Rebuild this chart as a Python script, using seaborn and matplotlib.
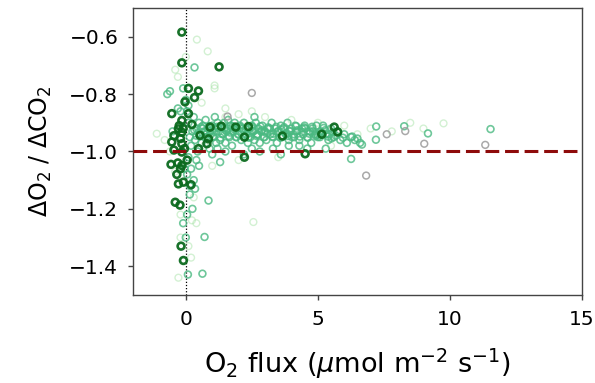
import matplotlib
matplotlib.use("Agg")
import matplotlib.pyplot as plt
import seaborn as sns
import pandas as pd

# ---- data ----
dark_x = [-0.15, -0.15, 1.26, 0.10, 0.48, 0.33, -0.03, -0.53, 0.10, -0.15, -0.28, -0.15, 0.23,
          -0.53, -0.15, 0.54, 0.92, 1.34, 1.89, 2.37, 2.22, 0.86, 0.80, 0.48, 3.66, 5.15, 5.62,
          5.75, 2.22, 4.52, -0.15, -0.56, -0.15, -0.34, -0.09, -0.28, 0.20, -0.40, -0.22, -0.18,
          -0.09, -0.25, -0.10, -0.45, -0.20, -0.05, -0.45, 0.05, -0.30, -0.20]
dark_y = [-0.584, -0.691, -0.705, -0.780, -0.789, -0.812, -0.827, -0.868, -0.868, -0.892, -0.921,
          -0.933, -0.906, -0.967, -0.973, -0.944, -0.915, -0.912, -0.915, -0.913, -0.950, -0.956,
          -0.973, -0.990, -0.946, -0.940, -0.915, -0.932, -1.020, -1.008, -1.002, -1.045, -1.049,
          -1.080, -1.107, -1.113, -1.116, -1.177, -1.187, -1.330, -1.380, -0.910, -0.920, -0.945,
          -0.955, -0.990, -0.995, -1.030, -1.040, -1.060]

mid_x = [0.05, 0.10, 0.15, 0.20, 0.25, 0.30, 0.35, 0.40, 0.45, 0.50, 0.55, 0.60, 0.65, 0.70, 0.75,
         0.80, 0.85, 0.90, 0.95, 1.00, 0.20, 0.30, 0.35, 0.15, 0.25, 0.40, 0.10, 0.05,
         1.05, 1.10, 1.15, 1.20, 1.25, 1.30, 1.35, 1.40, 1.45, 1.50, 1.55, 1.60, 1.65, 1.70, 1.75,
         1.80, 1.85, 1.90, 1.95, 1.20, 1.50, 1.00, 1.10, 1.60,
         2.00, 2.05, 2.10, 2.15, 2.20, 2.30, 2.35, 2.40, 2.45, 2.50, 2.55, 2.60, 2.65, 2.70, 2.75,
         2.80, 2.85, 2.90, 2.95, 2.50, 2.80, 2.20, 2.60,
         3.00, 3.05, 3.10, 3.20, 3.25, 3.30, 3.40, 3.45, 3.50, 3.60, 3.65, 3.70, 3.80, 3.85, 3.90,
         3.95, 3.30, 3.60, 3.90,
         4.00, 4.10, 4.15, 4.20, 4.30, 4.40, 4.45, 4.50, 4.60, 4.70, 4.75, 4.80, 4.90, 4.95, 4.30, 4.60,
         5.00, 5.10, 5.20, 5.30, 5.40, 5.50, 5.60, 5.75, 5.85, 6.00, 6.10, 6.25, 6.40, 6.60, 5.30,
         0.33, 1.30, 0.86, 0.71, 0.63, 0.08, 6.26, 7.21, 8.27, 9.17, 11.54, 7.20, 6.67,
         -0.70, -0.60, -0.30, -0.50, 0.50,
         -0.10, 0.00, -0.20, 0.10, -0.05, 0.15, 0.05, -0.10, 0.00,
         # extra band points
         0.32, 0.48, 0.62, 0.78, 0.92, 1.08, 1.22, 1.38, 1.52, 1.68, 1.82, 1.98, 2.12, 2.28, 2.42,
         2.58, 2.72, 2.88, 3.02, 3.18, 3.32, 3.48, 3.62, 3.78, 3.92, 4.08, 4.22, 4.38, 4.52, 4.68,
         4.82, 4.98, 5.12, 5.28, 5.42, 5.58,
         0.40, 0.58, 0.72, 0.88, 1.02, 1.18, 1.32, 1.48, 1.62, 1.78, 1.92, 2.08, 2.22, 2.38, 2.52,
         2.68, 2.82, 2.98, 3.12, 3.28, 3.42, 3.58, 3.72, 3.88, 4.02, 4.18, 4.32, 4.48, 4.62, 4.78,
         4.92, 5.08, 5.22, 5.38, 5.52, 5.68, 5.95, 6.30, 6.50]
mid_y = [-0.86, -0.90, -0.95, -0.98, -0.93, -0.88, -0.96, -0.92, -1.00, -0.90, -0.94, -0.97, -0.91,
         -0.93, -0.89, -0.95, -0.92, -0.99, -0.94, -0.91, -1.06, -1.10, -1.13, -1.15, -1.20, -1.03,
         -1.02, -1.08,
         -0.95, -0.92, -0.97, -0.90, -0.93, -0.96, -0.91, -0.94, -0.90, -0.97, -0.93, -0.92, -0.95,
         -0.91, -0.98, -0.93, -0.90, -0.95, -0.92, -0.99, -1.00, -1.01, -0.88, -0.89,
         -0.94, -0.91, -0.96, -0.92, -0.90, -0.94, -0.97, -0.92, -0.95, -0.91, -0.93, -0.96, -0.90,
         -0.94, -0.92, -0.97, -0.93, -0.91, -0.95, -0.99, -1.00, -1.01, -0.88,
         -0.93, -0.96, -0.92, -0.94, -0.90, -0.95, -0.92, -0.97, -0.93, -0.91, -0.95, -0.92, -0.94,
         -0.90, -0.96, -0.93, -0.99, -1.01, -0.98,
         -0.92, -0.95, -0.91, -0.93, -0.96, -0.92, -0.94, -0.91, -0.95, -0.93, -0.97, -0.92, -0.94,
         -0.91, -0.98, -0.99,
         -0.95, -0.93, -0.91, -0.94, -0.96, -0.92, -0.95, -0.93, -0.96, -0.94, -0.97, -0.95, -0.96,
         -0.97, -0.99,
         -0.707, -1.037, -1.171, -1.298, -1.426, -1.429, -1.026, -0.913, -0.912, -0.937, -0.922,
         -0.959, -0.976,
         -0.80, -0.79, -0.85, -0.93, -1.05,
         -0.78, -0.82, -0.86, -0.84, -1.06, -1.12, -1.22, -1.25, -1.30,
         -0.925, -0.935, -0.920, -0.940, -0.928, -0.932, -0.918, -0.938, -0.926, -0.934, -0.922,
         -0.940, -0.930, -0.924, -0.936, -0.928, -0.942, -0.926, -0.934, -0.920, -0.938, -0.930,
         -0.924, -0.936, -0.928, -0.940, -0.926, -0.932, -0.920, -0.938, -0.930, -0.942, -0.934,
         -0.926, -0.940, -0.932,
         -0.945, -0.915, -0.950, -0.912, -0.948, -0.914, -0.952, -0.916, -0.946, -0.912, -0.950,
         -0.915, -0.948, -0.952, -0.914, -0.946, -0.912, -0.950, -0.916, -0.948, -0.914, -0.952,
         -0.915, -0.946, -0.950, -0.912, -0.948, -0.916, -0.952, -0.914, -0.946, -0.950, -0.918,
         -0.948, -0.954, -0.945, -0.952, -0.948, -0.955]

light_x = [0.42, 0.83, 1.09, 1.09, -1.10, 9.76, 2.56, -0.28, 0.23, -0.40, 0.00, -0.30, 0.60, 1.50,
           2.00, 3.00, 4.00, 5.00, 6.00, 7.00, 8.50, 9.00, -0.80, -0.60, -0.40, 0.30, 0.40, 0.10,
           0.20, -0.20, 1.00, 2.00, 3.50, 5.50, 6.50, 7.80, 1.50, 2.50, 0.70, -0.20]
light_y = [-0.610, -0.651, -0.770, -0.780, -0.938, -0.902, -1.246, -1.440, -1.240, -0.715, -0.670,
           -0.740, -0.830, -0.850, -0.870, -0.880, -0.890, -0.900, -0.910, -0.920, -0.900, -0.920,
           -0.960, -1.000, -1.070, -1.160, -1.250, -1.330, -1.370, -1.300, -1.050, -1.030, -1.020,
           -0.980, -0.940, -0.930, -0.880, -0.860, -0.980, -1.220]

gray_x = [2.50, 1.58, 7.61, 9.03, 11.34, 6.83, 8.31]
gray_y = [-0.796, -0.878, -0.940, -0.973, -0.977, -1.084, -0.929]

# ---- plot ----
sns.set_theme(style="ticks")
plt.rcParams['font.family'] = ['DejaVu Sans']
plt.rcParams['text.color'] = 'black'
plt.rcParams['axes.labelcolor'] = 'black'
plt.rcParams['xtick.color'] = '#444444'
plt.rcParams['ytick.color'] = '#444444'
plt.rcParams['xtick.labelcolor'] = 'black'
plt.rcParams['ytick.labelcolor'] = 'black'

fig = plt.figure(figsize=(5.95, 3.83), dpi=100)
ax = fig.add_axes([0.2235, 0.230, 0.7545, 0.749])

groups = [
    (light_x, light_y, "#9ee09e", 1.0, 0.45),
    (mid_x, mid_y, "#4ab981", 1.2, 0.8),
    (gray_x, gray_y, "#a0a0a0", 1.1, 0.9),
    (dark_x, dark_y, "#0b6a1e", 1.9, 0.95),
]
for gx, gy, col, lw, al in groups:
    df = pd.DataFrame({"x": gx, "y": gy})
    sns.scatterplot(data=df, x="x", y="y", ax=ax, marker="o", s=24,
                    facecolor="none", edgecolor=col, linewidth=lw, alpha=al, zorder=3)

ax.axvline(0, color="black", linestyle=(0, (1, 1.5)), linewidth=0.9, zorder=2)
ax.axhline(-1.0, color="#8e0b0b", linestyle=(0, (4.5, 1.9)), linewidth=2.2, zorder=4)

ax.set_xlim(-2, 15)
ax.set_ylim(-1.5, -0.5)
ax.set_xticks([0, 5, 10, 15])
ax.set_yticks([-1.4, -1.2, -1.0, -0.8, -0.6])
ax.tick_params(labelsize=14.5, length=3.6, width=1.0)
ax.tick_params(axis="x", pad=7)
ax.tick_params(axis="y", pad=7)
for sp in ax.spines.values():
    sp.set_color("#444444")
    sp.set_linewidth(1.0)
ax.set_xlabel(r"O$_2$ flux ($\mu$mol m$^{-2}$ s$^{-1}$)", fontsize=19.5, labelpad=13)
ax.set_ylabel(r"$\Delta$O$_2$ / $\Delta$CO$_2$", fontsize=17, labelpad=11)

fig.savefig("out.png", dpi=100)
